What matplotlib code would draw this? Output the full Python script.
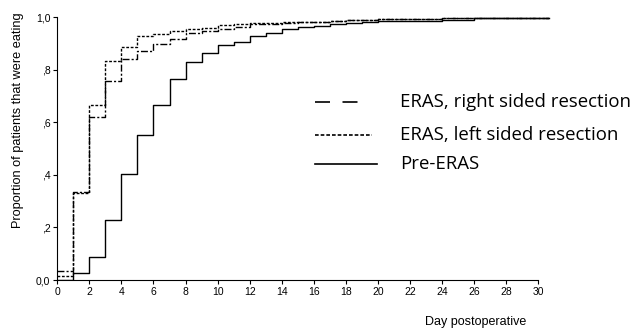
import matplotlib
matplotlib.use("Agg")
import matplotlib.pyplot as plt
from matplotlib.lines import Line2D

# ---- data ----
days = list(range(0, 31)) + [30.7]
pre_eras = [0.000, 0.028, 0.089, 0.228, 0.403, 0.553, 0.665, 0.765, 0.831, 0.865,
            0.894, 0.907, 0.928, 0.942, 0.955, 0.962, 0.967, 0.973, 0.980, 0.983,
            0.987, 0.987, 0.987, 0.987, 0.990, 0.990, 0.997, 0.997, 0.997, 0.997,
            0.997, 0.997]
eras_left = [0.015, 0.333, 0.665, 0.835, 0.886, 0.929, 0.935, 0.948, 0.955, 0.958,
             0.969, 0.973, 0.977, 0.978, 0.981, 0.983, 0.984, 0.986, 0.990, 0.990,
             0.994, 0.995, 0.995, 0.995, 0.996, 0.996, 0.997, 0.997, 0.997, 0.997,
             0.997, 0.997]
eras_right = [0.033, 0.335, 0.622, 0.759, 0.842, 0.870, 0.897, 0.916, 0.939, 0.947,
              0.955, 0.964, 0.974, 0.976, 0.979, 0.981, 0.983, 0.985, 0.988, 0.990,
              0.994, 0.995, 0.995, 0.995, 0.996, 0.996, 0.997, 0.997, 0.997, 0.997,
              0.997, 0.997]
xticks = list(range(0, 31, 2))
yticks = [0.0, 0.2, 0.4, 0.6, 0.8, 1.0]
ytick_labels = ["0,0", ",2", ",4", ",6", ",8", "1,0"]
legend_labels = ["ERAS, right sided resection", "ERAS, left sided resection", "Pre-ERAS"]

plt.rcParams['font.family'] = ['Liberation Sans', 'DejaVu Sans']

fig = plt.figure(figsize=(6.33, 3.29), dpi=100)
ax = fig.add_axes([57.3 / 633, 1 - 280 / 329, (554.3 - 57.3) / 633, (280 - 17.3) / 329])

ax.step(days, pre_eras, where='post', color='black', lw=1.0)
ax.step(days, eras_left, where='post', color='black', lw=1.0, dashes=(2, 1.2))
ax.step(days, eras_right, where='post', color='black', lw=1.0, dashes=(5, 1.5, 1.5, 1.5))

ax.set_xlim(0, 31)
ax.set_ylim(0, 1.0)
ax.spines['top'].set_visible(False)
ax.spines['right'].set_visible(False)
ax.spines['bottom'].set_bounds(0, 30)
ax.spines['left'].set_linewidth(0.8)
ax.spines['bottom'].set_linewidth(0.8)
ax.set_xticks(xticks)
ax.set_yticks(yticks)
ax.set_yticklabels(ytick_labels)
ax.tick_params(axis='both', labelsize=7.5, length=3, width=0.8, direction='out', pad=2)
ax.set_ylabel("Proportion of patients that were eating", fontsize=9.2)
ax.yaxis.set_label_coords(-0.068, 0.61)
fig.text(476 / 633, 1 - 322 / 329, "Day postoperative", fontsize=9, ha='center', va='center')

# manual legend (figure coordinates)
leg_styles = [dict(dashes=(9, 7.5)), dict(dashes=(2.2, 1.2)), dict()]
leg_ends = [367, 372, 377]
leg_ys = [101.7, 135, 164]
for lab, st, xe, yy in zip(legend_labels, leg_styles, leg_ends, leg_ys):
    fy = 1 - yy / 329
    fig.add_artist(Line2D([315 / 633, xe / 633], [fy, fy], color='black', lw=1.2,
                          transform=fig.transFigure, **st))
    fig.text(400 / 633, fy, lab, fontsize=13.4, family=['Open Sans', 'DejaVu Sans'],
             ha='left', va='center')

fig.savefig("out.png", dpi=100)
